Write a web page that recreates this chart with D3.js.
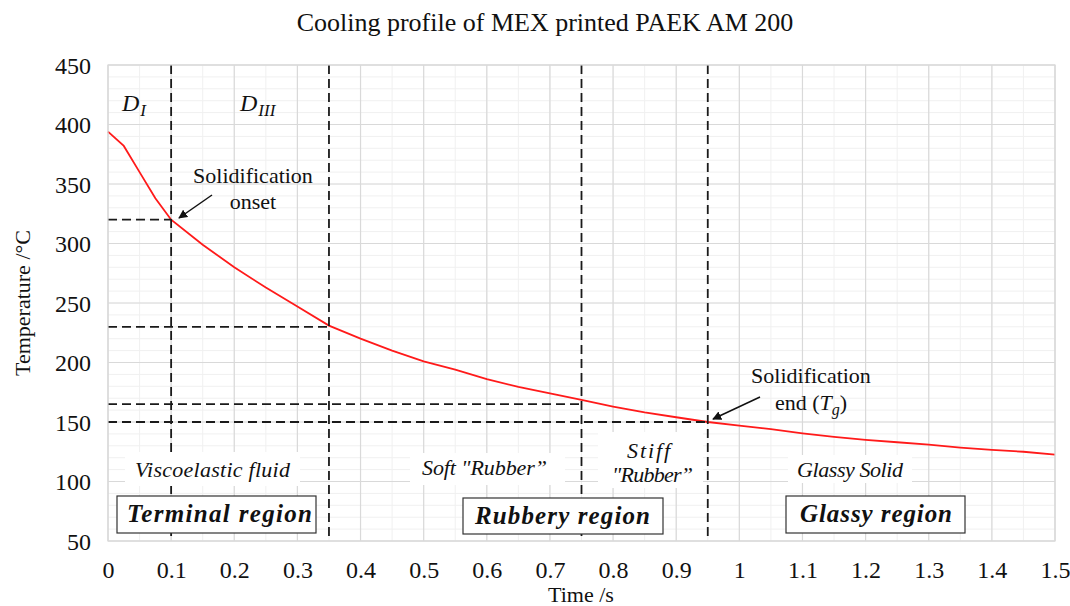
<!DOCTYPE html>
<html><head><meta charset="utf-8">
<script src="https://cdn.jsdelivr.net/npm/d3@7"></script>
<style>body{margin:0;background:#fff}svg{display:block}
svg text{font-family:"Liberation Serif","Times New Roman",Tinos,serif;}
</style>
</head><body><svg id="c" width="1070" height="606"></svg>
<script>
// ---- data ----
const timeS = [0, 0.025, 0.05, 0.075, 0.1, 0.15, 0.2, 0.25, 0.3, 0.35, 0.4, 0.45, 0.5, 0.55, 0.6, 0.65, 0.7, 0.75, 0.8, 0.85, 0.9, 0.95, 1.0, 1.05, 1.1, 1.15, 1.2, 1.25, 1.3, 1.35, 1.4, 1.45, 1.5];
const tempC = [394, 382, 360, 338, 320, 299, 280, 263, 247, 231, 220, 210, 201, 194, 186, 179.5, 174, 168.5, 163, 158, 154, 150, 147, 144, 140.5, 137.5, 135, 133, 131, 128.5, 126.5, 125, 122.5];
const xTickValues = [0, 0.1, 0.2, 0.3, 0.4, 0.5, 0.6, 0.7, 0.8, 0.9, 1, 1.1, 1.2, 1.3, 1.4, 1.5];
const xTickLabels = ["0", "0.1", "0.2", "0.3", "0.4", "0.5", "0.6", "0.7", "0.8", "0.9", "1", "1.1", "1.2", "1.3", "1.4", "1.5"];
const yTickValues = [50, 100, 150, 200, 250, 300, 350, 400, 450];
const boundaryTimes = [0.1, 0.35, 0.75, 0.95];
const thresholdTemps = [320, 230, 165, 150];
const thresholdEnds = [0.1, 0.35, 0.75, 0.95];
const phaseLabels = ["Viscoelastic fluid", "Soft \"Rubber\u201D", "Glassy Solid"];
const regionLabels = ["Terminal region", "Rubbery region", "Glassy region"];

// ---- layout ----
const L = 108, R = 1055, T = 65, B = 541;
const svg = d3.select("#c");
const x = d3.scaleLinear().domain([0, 1.5]).range([L, R]);
const y = d3.scaleLinear().domain([50, 450]).range([B, T]);

// grid minor
const g = svg.append("g");
g.selectAll(".vmin").data(d3.range(0, 31).map(i => i * 0.05)).join("line")
  .attr("x1", d => x(d)).attr("x2", d => x(d)).attr("y1", T).attr("y2", B)
  .attr("stroke", "#f0f0f0").attr("stroke-width", 1);
g.selectAll(".hmin").data(d3.range(0, 41).map(i => 50 + i * 10)).join("line")
  .attr("y1", d => y(d)).attr("y2", d => y(d)).attr("x1", L).attr("x2", R)
  .attr("stroke", "#f0f0f0").attr("stroke-width", 1);
// grid major
g.selectAll(".vmaj").data(xTickValues).join("line")
  .attr("x1", d => x(d)).attr("x2", d => x(d)).attr("y1", T).attr("y2", B)
  .attr("stroke", "#d9d9d9").attr("stroke-width", 1.2);
g.selectAll(".hmaj").data(yTickValues).join("line")
  .attr("y1", d => y(d)).attr("y2", d => y(d)).attr("x1", L).attr("x2", R)
  .attr("stroke", "#d9d9d9").attr("stroke-width", 1.2);

// axes (labels only)
const xAxis = d3.axisBottom(x).tickValues(xTickValues).tickFormat((d, i) => xTickLabels[i]).tickSize(0).tickPadding(0);
const xg = svg.append("g").attr("transform", `translate(0,${B})`).call(xAxis);
xg.attr("font-family", null);
xg.select(".domain").remove();
xg.selectAll("text").attr("font-size", 24).attr("fill", "#111").attr("dy", 0).attr("y", 37);
const yAxis = d3.axisLeft(y).tickValues(yTickValues).tickSize(0).tickPadding(17);
const yg = svg.append("g").attr("transform", `translate(${L},0)`).call(yAxis);
yg.attr("font-family", null);
yg.select(".domain").remove();
yg.selectAll("text").attr("font-size", 24).attr("fill", "#111").attr("dy", "0.35em");

// curve
svg.append("path").datum(timeS.map((t, i) => [t, tempC[i]]))
  .attr("fill", "none").attr("stroke", "#ff1a1a").attr("stroke-width", 1.8)
  .attr("d", d3.line().x(d => x(d[0])).y(d => y(d[1])));

// dashed lines
const dash = "9,5";
svg.selectAll(".vd").data(boundaryTimes).join("line")
  .attr("x1", d => x(d)).attr("x2", d => x(d)).attr("y1", T).attr("y2", B)
  .attr("stroke", "#1a1a1a").attr("stroke-width", 1.8).attr("stroke-dasharray", dash);
svg.selectAll(".hd").data(thresholdTemps).join("line")
  .attr("x1", L).attr("x2", (d, i) => x(thresholdEnds[i])).attr("y1", d => y(d)).attr("y2", d => y(d))
  .attr("stroke", "#1a1a1a").attr("stroke-width", 1.8).attr("stroke-dasharray", dash);

// white backgrounds for phase labels
const bgs = [[125, 452, 175, 34], [410, 453, 155, 32], [598, 432, 105, 56], [788, 455, 124, 28]];
svg.selectAll(".bg").data(bgs).join("rect")
  .attr("x", d => d[0]).attr("y", d => d[1]).attr("width", d => d[2]).attr("height", d => d[3]).attr("fill", "#fff");

function itext(xp, yp, s, len, size) {
  const t = svg.append("text").attr("x", xp).attr("y", yp)
    .attr("font-style", "italic").attr("font-size", size || 22).attr("fill", "#111").text(s);
  if (len) t.attr("textLength", len).attr("lengthAdjust", "spacing");
  return t;
}
itext(135, 477, phaseLabels[0], 155);
itext(422, 475, phaseLabels[1], 125);
itext(627, 458, "Stiff", 43);
itext(612, 482, "\"Rubber\u201D", 81);
itext(797, 477, phaseLabels[2], 106);

// region boxes
const boxes = [[117, 496, 199, 37, 127, 185], [463, 498, 200, 36, 475, 175], [786, 496, 179, 37, 800, 152]];
boxes.forEach((b, i) => {
  svg.append("rect").attr("x", b[0]).attr("y", b[1]).attr("width", b[2]).attr("height", b[3])
    .attr("fill", "#fff").attr("stroke", "#333").attr("stroke-width", 1.2);
  svg.append("text").attr("x", b[4]).attr("y", b[1] + 26)
    .attr("font-style", "italic").attr("font-weight", "bold").attr("font-size", 25).attr("fill", "#111")
    .attr("textLength", b[5]).attr("lengthAdjust", "spacing").text(regionLabels[i]);
});

// D labels
function dlabel(xp, yp, sub) {
  const t = svg.append("text").attr("x", xp).attr("y", yp)
    .attr("font-style", "italic").attr("font-size", 24).attr("fill", "#111");
  t.append("tspan").text("D");
  t.append("tspan").attr("font-size", 17).attr("dy", 5).attr("dx", 1).text(sub);
}
dlabel(122, 111, "I");
dlabel(240, 111, "III");

// annotations
function ann(cx, y1, y2, l1, l2parts) {
  svg.append("text").attr("x", cx).attr("y", y1).attr("text-anchor", "middle")
    .attr("font-size", 22).attr("fill", "#111").text(l1);
  const t = svg.append("text").attr("x", cx).attr("y", y2).attr("text-anchor", "middle")
    .attr("font-size", 22).attr("fill", "#111");
  l2parts.forEach(p => {
    const s = t.append("tspan").text(p.t);
    if (p.it) s.attr("font-style", "italic");
    if (p.sub) s.attr("font-size", 16).attr("dy", 5);
    if (p.up) s.attr("dy", -5);
  });
}
ann(253, 183, 209, "Solidification", [{ t: "onset" }]);
ann(811, 383, 410, "Solidification", [{ t: "end (" }, { t: "T", it: true }, { t: "g", it: true, sub: true }, { t: ")", up: true }]);

// arrows
const defs = svg.append("defs");
defs.append("marker").attr("id", "ah").attr("viewBox", "0 0 10 10").attr("refX", 9).attr("refY", 5)
  .attr("markerWidth", 9).attr("markerHeight", 9).attr("markerUnits", "userSpaceOnUse").attr("orient", "auto")
  .append("path").attr("d", "M0,0 L10,5 L0,10 z").attr("fill", "#111");
svg.append("line").attr("x1", 212).attr("y1", 195).attr("x2", 179).attr("y2", 218)
  .attr("stroke", "#111").attr("stroke-width", 1.5).attr("marker-end", "url(#ah)");
svg.append("line").attr("x1", 760).attr("y1", 397).attr("x2", 713).attr("y2", 419)
  .attr("stroke", "#111").attr("stroke-width", 1.5).attr("marker-end", "url(#ah)");

// plot border
svg.append("rect").attr("x", L).attr("y", T).attr("width", R - L).attr("height", B - T)
  .attr("fill", "none").attr("stroke", "#d9d9d9").attr("stroke-width", 1.2);

// titles
svg.append("text").attr("x", 545).attr("y", 31).attr("text-anchor", "middle")
  .attr("font-size", 26).attr("fill", "#111").text("Cooling profile of MEX printed PAEK AM 200");
svg.append("text").attr("x", 581).attr("y", 602).attr("text-anchor", "middle")
  .attr("font-size", 22).attr("fill", "#111").text("Time /s");
svg.append("text").attr("transform", "translate(30,303) rotate(-90)").attr("text-anchor", "middle")
  .attr("font-size", 22).attr("fill", "#111").text("Temperature /\u00B0C");
</script></body></html>
